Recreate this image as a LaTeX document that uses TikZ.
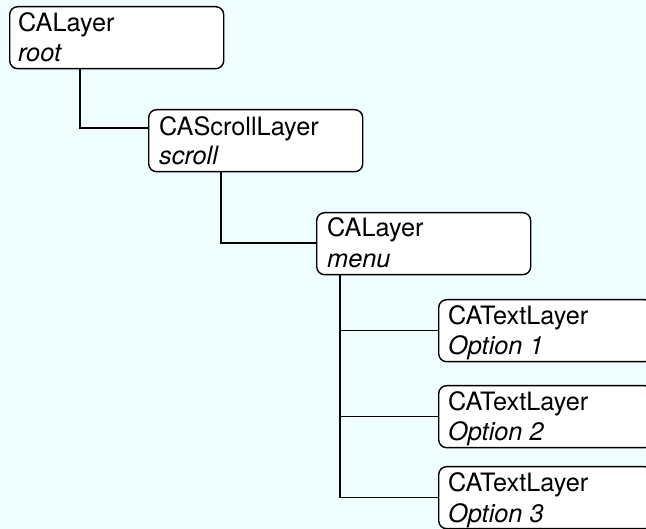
\documentclass[tikz,border=0pt]{standalone}
\usepackage{fontspec}
\setmainfont{TeX Gyre Heros}
\definecolor{paper}{RGB}{240,253,255}
\begin{document}
\begin{tikzpicture}[x=1pt,y=-1pt,
  layer/.style={draw, fill=white, rounded corners=8pt, line width=1.4pt,
    minimum width=214pt, minimum height=62pt, anchor=north west, inner sep=0pt},
  kind/.style={anchor=base west, inner sep=0pt, font=\fontsize{25.3}{30}\selectfont},
  ident/.style={anchor=base west, inner sep=0pt, font=\fontsize{25.3}{30}\selectfont\itshape},
  link/.style={line width=1.4pt}]
  % page
  \fill[paper] (0,0) rectangle (646,529);
  \useasboundingbox (0,0) rectangle (646,529);
  \clip (0,0) rectangle (646,529);

  % layer boxes
  \node[layer] (root)   at (9,6)     {};
  \node[layer] (scroll) at (148,109) {};
  \node[layer] (menu)   at (316,212) {};
  \node[layer] (opt1)   at (438,299) {};
  \node[layer] (opt2)   at (438,385) {};
  \node[layer] (opt3)   at (438,466) {};

  % class and instance names
  \node[kind]  (rootK)   at ([xshift=9pt,yshift=-26pt]root.north west)   {CALayer};
  \node[ident] (rootN)   at ([xshift=9pt,yshift=-56pt]root.north west)   {root};
  \node[kind]  (scrollK) at ([xshift=11pt,yshift=-27pt]scroll.north west) {CAScrollLayer};
  \node[ident] (scrollN) at ([xshift=11pt,yshift=-56pt]scroll.north west) {scroll};
  \node[kind]  (menuK)   at ([xshift=11pt,yshift=-25pt]menu.north west)   {CALayer};
  \node[ident] (menuN)   at ([xshift=11pt,yshift=-56pt]menu.north west)   {menu};
  \node[kind]  (opt1K)   at ([xshift=10pt,yshift=-26pt]opt1.north west)   {CATextLayer};
  \node[ident] (opt1N)   at ([xshift=10pt,yshift=-56pt]opt1.north west)   {Option 1};
  \node[kind]  (opt2K)   at ([xshift=10pt,yshift=-26pt]opt2.north west)   {CATextLayer};
  \node[ident] (opt2N)   at ([xshift=10pt,yshift=-56pt]opt2.north west)   {Option 2};
  \node[kind]  (opt3K)   at ([xshift=10pt,yshift=-26pt]opt3.north west)   {CATextLayer};
  \node[ident] (opt3N)   at ([xshift=10pt,yshift=-56pt]opt3.north west)   {Option 3};

  % hierarchy connectors
  \draw[link] ([xshift=71pt]root.south west) |- ([yshift=-19pt]scroll.north west);
  \draw[link] ([xshift=73pt]scroll.south west) |- ([yshift=-31pt]menu.north west);
  \coordinate (trunk) at ([xshift=24pt]menu.south west);
  \draw[link] (trunk) |- (opt3.west);
  \draw[link] (trunk |- opt1.west) -- (opt1.west);
  \draw[link] (trunk |- opt2.west) -- (opt2.west);
\end{tikzpicture}
\end{document}
